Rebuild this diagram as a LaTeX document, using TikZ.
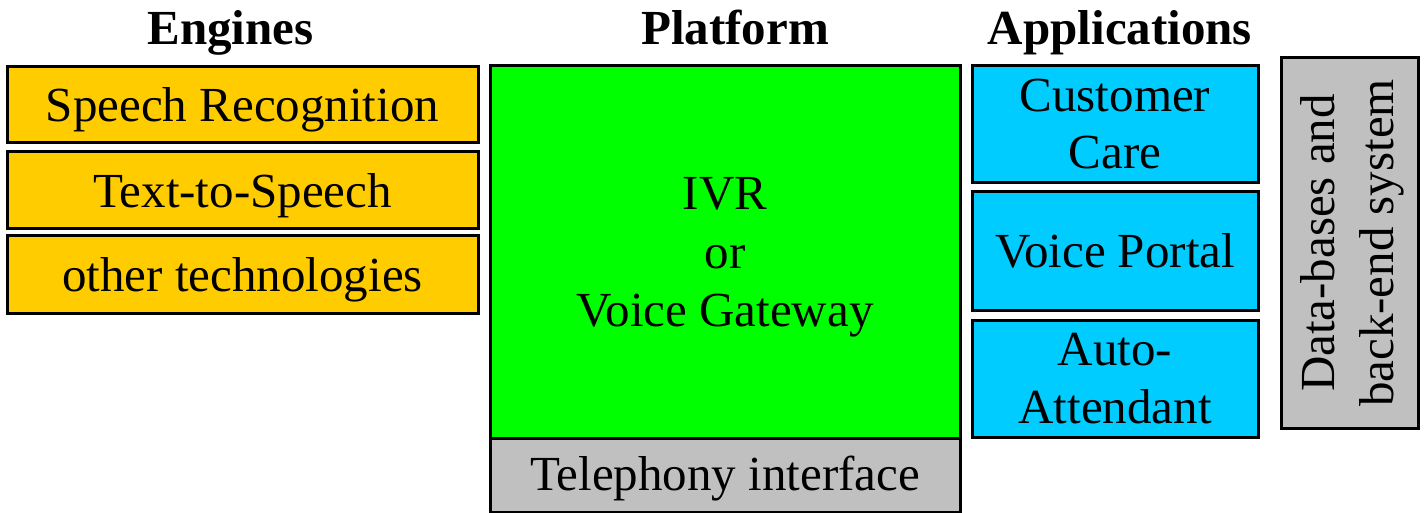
\documentclass[tikz,border=0pt]{standalone}
\usepackage{fontspec}
\setmainfont{Liberation Serif}
\definecolor{engorange}{HTML}{FFCC00}
\definecolor{platgreen}{HTML}{00FF00}
\definecolor{appcyan}{HTML}{00CCFF}
\definecolor{boxgray}{HTML}{C0C0C0}
\begin{document}
\begin{tikzpicture}[x=1pt,y=-1pt,
  box/.style={draw=black,line width=3pt,inner sep=0pt,outer sep=0pt,align=center,
    font=\fontsize{49}{57}\selectfont},
  engbox/.style={box,fill=engorange,minimum width=471pt,text depth=0pt},
  appbox/.style={box,fill=appcyan,minimum width=286pt},
  title/.style={anchor=base,font=\fontsize{49}{57}\selectfont\bfseries}]
\useasboundingbox (0,0) rectangle (1425,513);
\node[title] (tEng) at (230.5,45) {Engines};
\node[title] (tPlat) at (735,45) {Platform};
\node[title] (tApp) at (1120,45) {Applications};
\node[engbox,minimum height=76pt] (sr) at (242.5,105) {Speech Recognition};
\node[engbox,minimum height=77pt] (tts) at (242.5,190.5) {Text-to-Speech};
\node[engbox,minimum height=77pt] (oth) at (242.5,274.5) {other technologies};
\node[box,fill=platgreen,minimum width=470pt,minimum height=372pt,text depth=0pt,
  font=\fontsize{49}{58.5}\selectfont] (ivr) at (725,252) {IVR\\or\\Voice Gateway};
\node[box,fill=boxgray,minimum width=470pt,minimum height=74pt,text depth=4.5pt] (tel) at (725,475) {Telephony interface};
\node[appbox,minimum height=117pt] (cc) at (1115,124.5) {Customer\\Care};
\node[appbox,minimum height=118pt] (vp) at (1115,251) {Voice Portal};
\node[appbox,minimum height=117pt,font=\fontsize{49}{58}\selectfont] (aa) at (1115,378.5) {Auto-\\Attendant};
\node[box,fill=boxgray,minimum width=137pt,minimum height=370pt] (db) at (1349.5,243) {};
\node[rotate=90,align=center,inner sep=0pt,font=\fontsize{49}{59}\selectfont] (dbt) at ([xshift=3pt]db.center) {Data-bases and\\back-end system};
\end{tikzpicture}
\end{document}
